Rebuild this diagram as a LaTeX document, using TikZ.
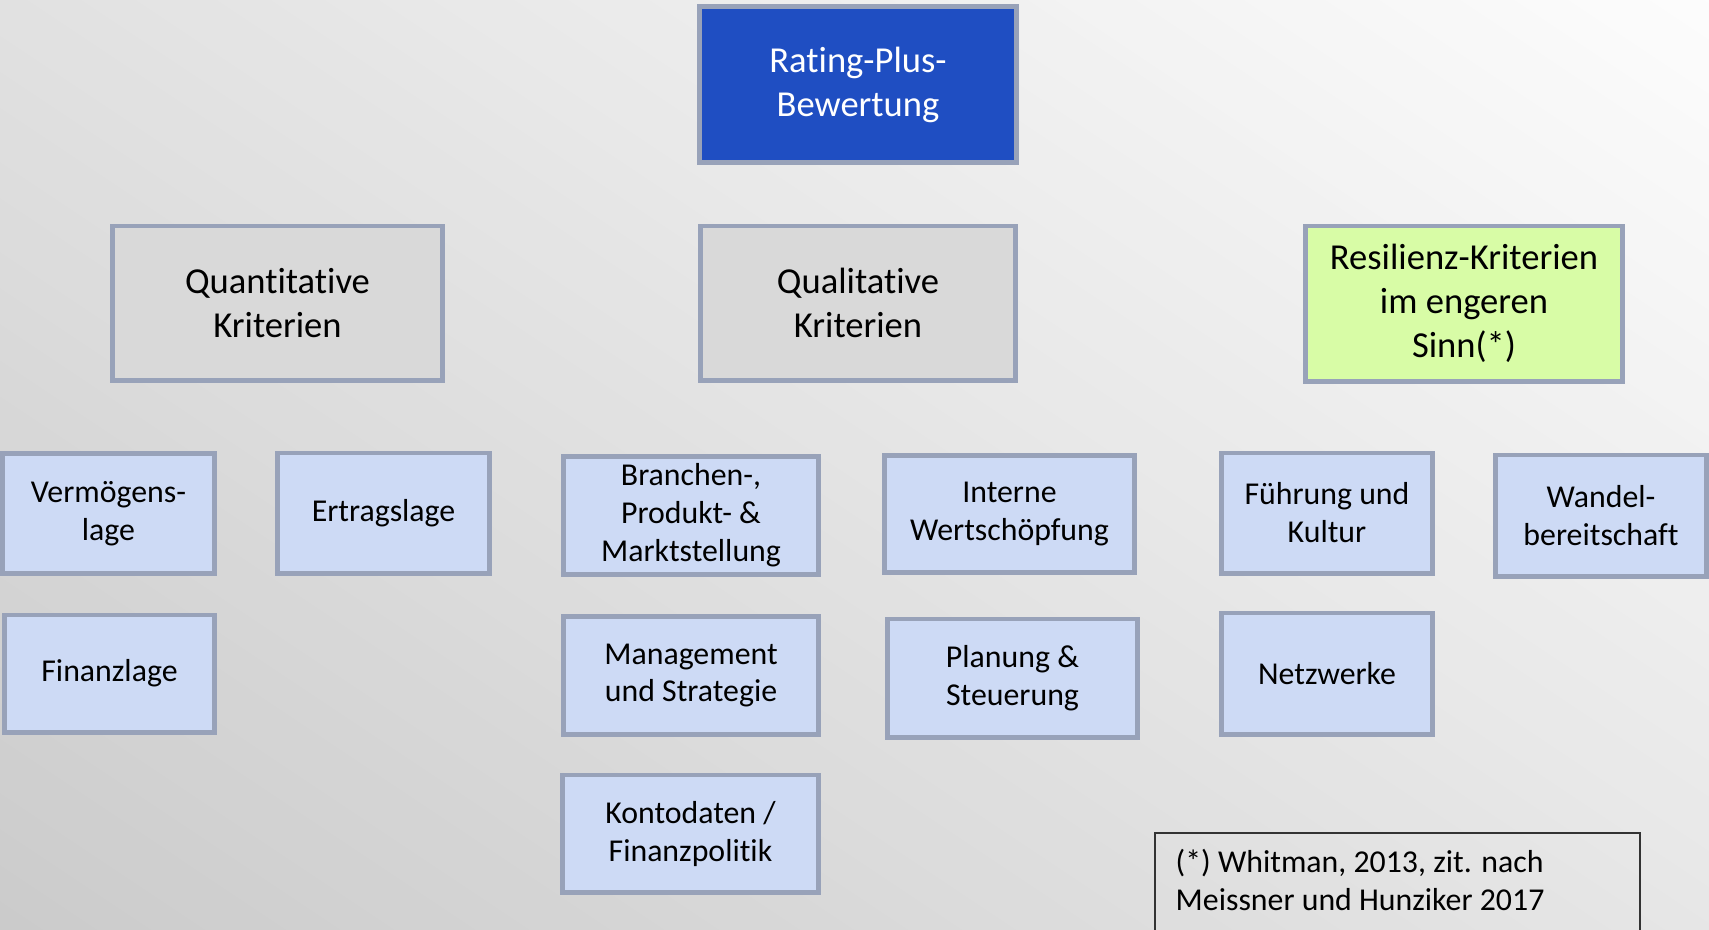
\documentclass[tikz,border=0pt]{standalone}
\usepackage{fontspec}
\setmainfont{Carlito}[Ligatures=NoCommon]

\definecolor{bgdark}{gray}{0.796}
\definecolor{bglight}{gray}{0.992}
\definecolor{boxline}{HTML}{98A2B9}
\definecolor{ratingblue}{HTML}{1F4EC2}
\definecolor{critgray}{HTML}{D9D9D9}
\definecolor{resgreen}{HTML}{D8FCA6}
\definecolor{itemblue}{HTML}{CDDAF5}

\tikzset{
  box/.style={draw=boxline, line width=1.4pt, inner sep=0pt, outer sep=0pt, align=center},
  headbox/.style={box, fill=ratingblue, text=white, font=\fontsize{10.4}{12.5}\selectfont},
  critbox/.style={box, fill=critgray, font=\fontsize{10.4}{12.5}\selectfont},
  itembox/.style={box, fill=itemblue, font=\fontsize{9.05}{10.8}\selectfont},
  notetext/.style={inner sep=0pt, align=left, font=\fontsize{9.05}{10.8}\selectfont},
}

\begin{document}
\begin{tikzpicture}[x=0.01cm, y=-0.01cm]
        \useasboundingbox (0,0) rectangle (1709,929);

        % Background gradient
        \begin{scope}
          \clip (0,0) rectangle (1709,929);
          \begin{scope}[rotate=56.3]
            \foreach \s in {-780,-765,...,960} {
              \pgfmathsetmacro\lvl{min(100,max(0,(\s+780)/17.3))}
              \fill[bglight!\lvl!bgdark] (\s,-2500) rectangle (\s+16,2500);
            }
          \end{scope}
        \end{scope}

        % Top
        \node[headbox, minimum width=3.17cm, minimum height=1.56cm] (rating) at (858,84.5) {Rating-Plus-\\Bewertung};

        % Criteria
        \node[critbox, minimum width=3.30cm, minimum height=1.54cm] (quant) at (277.5,303) {Quantitative\\Kriterien};
        \node[critbox, minimum width=3.15cm, minimum height=1.54cm] (qual) at (858,303) {Qualitative\\Kriterien};
        \node[critbox, fill=resgreen, minimum width=3.17cm, minimum height=1.55cm] (resil) at (1464,303.5) {Resilienz-Kriterien\\im engeren\\Sinn(*)};

        % Quantitative items
        \node[itembox, minimum width=2.12cm, minimum height=1.20cm] (verm) at (108.5,513.5) {Vermögens-\\lage};
        \node[itembox, minimum width=2.12cm, minimum height=1.20cm] (ertrag) at (383.5,513) {Ertragslage};
        \node[itembox, minimum width=2.10cm, minimum height=1.17cm] (finanz) at (109.5,673.5) {Finanzlage};

        % Qualitative items
        \node[itembox, minimum width=2.55cm, minimum height=1.18cm] (branche) at (691,515.5) {Branchen-,\\Produkt- \&\\Marktstellung};
        \node[itembox, minimum width=2.50cm, minimum height=1.17cm] (intern) at (1009.5,514) {Interne\\Wertschöpfung};
        \node[itembox, minimum width=2.55cm, minimum height=1.18cm] (mgmt) at (691,675.5) {Management\\und Strategie};
        \node[itembox, minimum width=2.50cm, minimum height=1.18cm] (planung) at (1012.5,678) {Planung \&\\Steuerung};
        \node[itembox, minimum width=2.56cm, minimum height=1.17cm] (konto) at (690.5,833.5) {Kontodaten /\\Finanzpolitik};

        % Resilience items
        \node[itembox, minimum width=2.11cm, minimum height=1.20cm] (fuehrung) at (1327,513) {Führung und\\Kultur};
        \node[itembox, minimum width=2.11cm, minimum height=1.21cm] (wandel) at (1601,515.5) {Wandel-\\bereitschaft};
        \node[itembox, minimum width=2.11cm, minimum height=1.21cm] (netz) at (1327,673.5) {Netzwerke};

        % Source note
        \draw[black!80, line width=0.35pt] (1155,833) rectangle (1640,960);
        \node[notetext, anchor=west] (note) at (1175,880) {(*) Whitman, 2013, zit. nach\\Meissner und Hunziker 2017};

\end{tikzpicture}
\end{document}
